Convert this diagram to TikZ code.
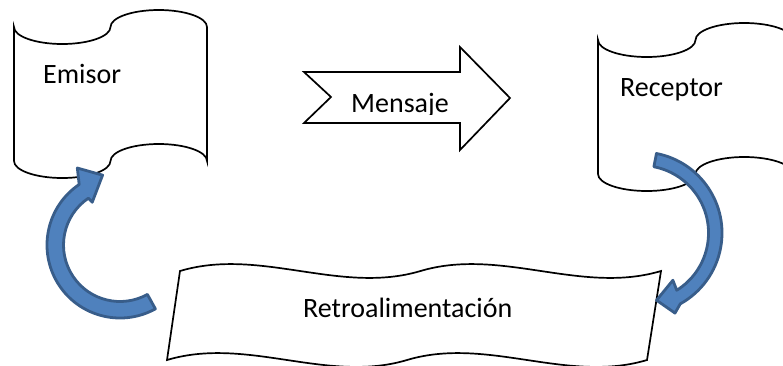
\documentclass[tikz,border=0pt]{standalone}
\usepackage{fontspec}
\setmainfont{Carlito}
\usetikzlibrary{calc}
\definecolor{ArrowFill}{HTML}{4F81BD}
\definecolor{ArrowLine}{HTML}{385D8A}
\tikzstyle{TapeShape}=[draw=black, line width=1.7pt, fill=white]
\tikzstyle{WaveShape}=[TapeShape]
\tikzstyle{BlockArrow}=[TapeShape, line join=miter]
\tikzstyle{CurvedArrow}=[draw=ArrowLine, fill=ArrowFill, line width=2.8pt, line join=round]
\tikzstyle{Label}=[anchor=base west, inner sep=0pt, font=\fontsize{28}{34}\selectfont]

\begin{document}
\begin{tikzpicture}[x=1pt, y=-1pt]
\useasboundingbox (0,0) rectangle (783,365);

\draw[TapeShape] (14,27) arc[start angle=180, end angle=360, x radius=48.25pt, y radius=17pt]
  arc[start angle=180, end angle=0, x radius=48.25pt, y radius=17pt] -- (207,161)
  arc[start angle=0, end angle=180, x radius=48.25pt, y radius=17pt]
  arc[start angle=0, end angle=-180, x radius=48.25pt, y radius=17pt] -- cycle;
\draw[TapeShape] (598,40) arc[start angle=180, end angle=360, x radius=48.75pt, y radius=17pt]
  arc[start angle=180, end angle=0, x radius=48.75pt, y radius=17pt] -- (793,174)
  arc[start angle=0, end angle=180, x radius=48.75pt, y radius=17pt]
  arc[start angle=0, end angle=-180, x radius=48.75pt, y radius=17pt] -- cycle;
\draw[WaveShape] (180,271) .. controls (260,247) and (340,295) .. (420.5,271)
  .. controls (501,247) and (581,295) .. (661,271) -- (647,360)
  .. controls (567,384) and (487,336) .. (407,360)
  .. controls (327,384) and (247,336) .. (167,360) -- cycle;
\draw[BlockArrow] (304,72) -- (460,72) -- (460,47) -- (510,98) -- (460,150) -- (460,123) -- (304,123) -- (331,97) -- cycle;

\node[Label](emisor) at (43,83) {Emisor};
\node[Label](receptor) at (620,96) {Receptor};
\node[Label](retro) at (303,317) {Retroalimentación};
\begin{scope}
\clip (300,40) rectangle (520,114);
\node[Label](mensaje) at (351,112) {Mensaje};
\end{scope}

\coordinate (lc) at (120,245);
\coordinate (rc) at (641,233);
\draw[CurvedArrow] ($(lc)+(-61:73pt)$) arc[start angle=-61, end angle=-236, radius=73pt]
  -- ($(lc)+(-241:88pt)$) -- ($(lc)+(-256:72pt)$) -- ($(lc)+(-237:51pt)$)
  -- ($(lc)+(-236:56.5pt)$) arc[start angle=-236, end angle=-61, radius=56.5pt] -- cycle;
\draw[CurvedArrow] ($(rc)+(79:81pt)$) arc[start angle=79, end angle=-61, radius=81pt]
  -- ($(rc)+(-67:87pt)$) -- ($(rc)+(-77:69pt)$) -- ($(rc)+(-56:57pt)$)
  -- ($(rc)+(-58:67.5pt)$) arc[start angle=-58, end angle=79, radius=67.5pt] -- cycle;
\end{tikzpicture}
\end{document}
